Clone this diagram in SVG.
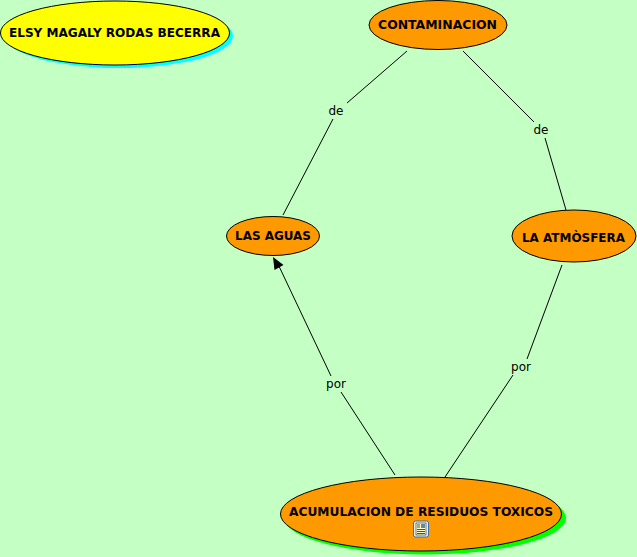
<svg xmlns="http://www.w3.org/2000/svg" width="637" height="557" viewBox="0 0 637 557">
<style>
.bg{fill:#c4ffc4}
.n{stroke:#000;stroke-width:1}
.o{fill:#ff9900}
.t{font-family:"DejaVu Sans",Verdana,sans-serif;font-weight:bold;font-size:12px;fill:#000;text-anchor:middle}
.l{font-family:"DejaVu Sans",Verdana,sans-serif;font-size:12px;fill:#000;text-anchor:middle}
.c{stroke:#000;stroke-width:1;fill:none}
</style>
<rect class="bg" width="637" height="557"/>
<g id="connectors">
<path class="c" d="M407 51L347 103"/>
<path class="c" d="M333 119L283 215"/>
<path class="c" d="M463 51L534 122"/>
<path class="c" d="M545 138L566 210"/>
<path class="c" d="M562 265L527 359"/>
<path class="c" d="M513 375L445 477"/>
<path class="c" d="M395 475L341 392"/>
<path class="c" d="M331 376L277 262"/>
<path d="M273 257L283.500 265L274.500 270Z" fill="#000"/>
<text class="l" x="336" y="115">de</text>
<text class="l" x="541" y="134">de</text>
<text class="l" x="336" y="388">por</text>
<text class="l" x="521" y="371">por</text>
</g>
<g id="autor"><ellipse cx="119" cy="36" rx="114" ry="32" fill="#00ffff"/><ellipse class="n" cx="115" cy="33" rx="114.500" ry="32" fill="#ffff00"/><text class="t" x="114.500" y="36.500" textLength="211" lengthAdjust="spacingAndGlyphs">ELSY MAGALY RODAS BECERRA</text></g>
<g id="contaminacion"><ellipse class="n o" cx="438" cy="25" rx="69" ry="24.500"/><text class="t" x="437.500" y="29" textLength="119" lengthAdjust="spacingAndGlyphs">CONTAMINACION</text></g>
<g id="aguas"><ellipse class="n o" cx="273" cy="236" rx="46.500" ry="19.500"/><text class="t" x="273" y="240" textLength="76" lengthAdjust="spacingAndGlyphs">LAS AGUAS</text></g>
<g id="atmosfera"><ellipse class="n o" cx="574" cy="236" rx="62" ry="26"/><text class="t" x="573.500" y="242" textLength="103" lengthAdjust="spacingAndGlyphs">LA ATMÒSFERA</text></g>
<g id="acumulacion"><ellipse cx="425" cy="518" rx="141" ry="36.500" fill="#00ff00"/><ellipse class="n o" cx="421" cy="514" rx="140.500" ry="37"/><text class="t" x="421" y="515.500" textLength="264" lengthAdjust="spacingAndGlyphs">ACUMULACION DE RESIDUOS TOXICOS</text>
<rect x="413.500" y="521" width="15" height="16" rx="2" fill="#e8f0fa" stroke="#3a6ea5"/><rect x="416" y="523" width="10" height="12" fill="#ffffcc" stroke="#222" stroke-width=".6"/><path d="M417 529.500h8M417 531.500h8M417 533.500h8M417 525h3M417 527h3" stroke="#222" stroke-width=".8"/><rect x="421" y="524" width="4" height="4" fill="#668899"/></g>
</svg>
